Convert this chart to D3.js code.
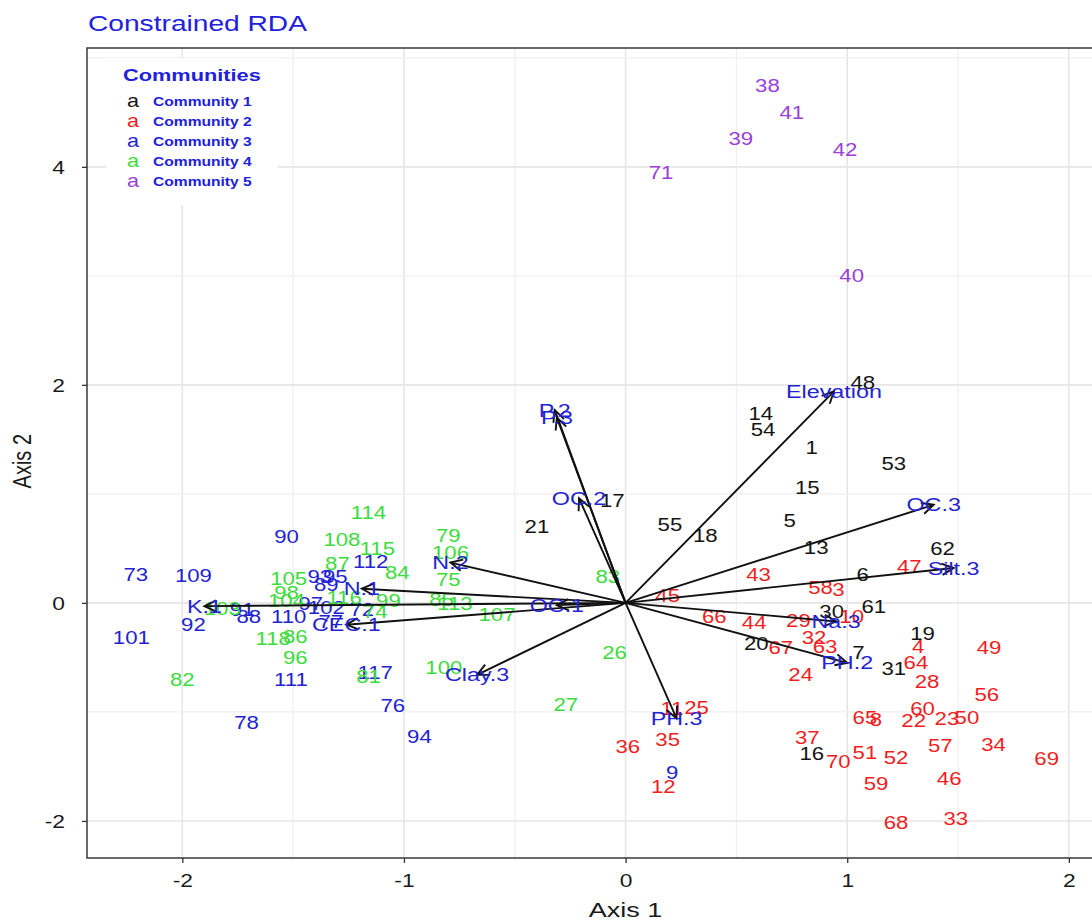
<!DOCTYPE html>
<html>
<head>
<meta charset="utf-8">
<script src="https://cdn.jsdelivr.net/npm/d3@7"></script>
<style>
  html, body { margin: 0; padding: 0; background: #ffffff; overflow: hidden; }
  svg { display: block; font-family: "Liberation Sans", Arial, sans-serif; }
</style>
</head>
<body>
<svg id="chart" width="1092" height="923"></svg>
<script>
// Site scores [label, axis 1, axis 2] for each community
const community1 = [
  ["48", 1.07, 2.02], ["14", 0.61, 1.74], ["54", 0.62, 1.59], ["1", 0.84, 1.42],
  ["53", 1.21, 1.28], ["15", 0.82, 1.06], ["55", 0.20, 0.72], ["18", 0.36, 0.62],
  ["5", 0.74, 0.75], ["13", 0.86, 0.51], ["6", 1.07, 0.26], ["61", 1.12, -0.03],
  ["30", 0.93, -0.08], ["20", 0.59, -0.37], ["7", 1.05, -0.46], ["62", 1.43, 0.50],
  ["19", 1.34, -0.28], ["31", 1.21, -0.60], ["16", 0.84, -1.38], ["17", -0.06, 0.94],
  ["21", -0.40, 0.70]
];
const community2 = [
  ["43", 0.60, 0.26], ["45", 0.19, 0.07], ["58", 0.88, 0.14], ["3", 0.96, 0.12],
  ["66", 0.40, -0.13], ["44", 0.58, -0.18], ["29", 0.78, -0.16], ["10", 1.02, -0.13],
  ["32", 0.85, -0.32], ["63", 0.90, -0.40], ["67", 0.70, -0.41], ["47", 1.28, 0.33],
  ["24", 0.79, -0.66], ["4", 1.32, -0.40], ["64", 1.31, -0.55], ["28", 1.36, -0.72],
  ["49", 1.64, -0.41], ["56", 1.63, -0.84], ["60", 1.34, -0.97], ["22", 1.30, -1.08],
  ["23", 1.45, -1.06], ["50", 1.54, -1.05], ["57", 1.42, -1.31], ["34", 1.66, -1.30],
  ["69", 1.90, -1.43], ["46", 1.46, -1.61], ["33", 1.49, -1.98], ["65", 1.08, -1.05],
  ["8", 1.13, -1.07], ["52", 1.22, -1.42], ["51", 1.08, -1.37], ["70", 0.96, -1.46],
  ["37", 0.82, -1.24], ["59", 1.13, -1.66], ["68", 1.22, -2.02], ["25", 0.32, -0.96],
  ["11", 0.21, -0.97], ["35", 0.19, -1.25], ["36", 0.01, -1.32], ["12", 0.17, -1.69]
];
const community3 = [
  ["9", 0.21, -1.56], ["73", -2.21, 0.26], ["109", -1.95, 0.25], ["90", -1.53, 0.61],
  ["101", -2.23, -0.32], ["92", -1.95, -0.20], ["88", -1.70, -0.13], ["91", -1.73, -0.06],
  ["110", -1.52, -0.13], ["93", -1.38, 0.24], ["95", -1.31, 0.24], ["89", -1.35, 0.17],
  ["112", -1.15, 0.38], ["97", -1.42, -0.01], ["102", -1.35, -0.04], ["72", -1.19, -0.06],
  ["77", -1.33, -0.17], ["117", -1.13, -0.64], ["111", -1.51, -0.70], ["76", -1.05, -0.94],
  ["78", -1.71, -1.10], ["94", -0.93, -1.23]
];
const community4 = [
  ["114", -1.16, 0.83], ["108", -1.28, 0.58], ["115", -1.12, 0.50], ["87", -1.30, 0.36],
  ["84", -1.03, 0.28], ["105", -1.52, 0.22], ["98", -1.53, 0.09], ["104", -1.53, 0.02],
  ["116", -1.27, 0.05], ["99", -1.07, 0.02], ["74", -1.13, -0.08], ["118", -1.59, -0.33],
  ["86", -1.49, -0.31], ["96", -1.49, -0.50], ["103", -1.82, -0.05], ["85", -0.83, 0.03],
  ["113", -0.77, -0.01], ["79", -0.80, 0.62], ["106", -0.79, 0.46], ["75", -0.80, 0.21],
  ["107", -0.58, -0.11], ["100", -0.82, -0.59], ["81", -1.16, -0.68], ["82", -2.00, -0.70],
  ["26", -0.05, -0.46], ["27", -0.27, -0.93], ["83", -0.08, 0.24]
];
const community5 = [
  ["38", 0.64, 4.74], ["41", 0.75, 4.50], ["39", 0.52, 4.26], ["42", 0.99, 4.16],
  ["71", 0.16, 3.95], ["40", 1.02, 3.00]
];

// Constraining variables (biplot arrows)
const envNames = ["Elevation", "P.2", "P.3", "OC.2", "N.2", "N.1", "K.1", "CEC.1",
                  "OC.1", "Clay.3", "PH.3", "PH.2", "Na.3", "Silt.3", "OC.3"];
const envAxis1 = [0.94, -0.32, -0.31, -0.21, -0.79, -1.19, -1.90, -1.26,
                  -0.31, -0.67, 0.23, 1.00, 0.95, 1.48, 1.39];
const envAxis2 = [1.94, 1.77, 1.70, 0.96, 0.37, 0.13, -0.03, -0.20,
                  -0.02, -0.66, -1.06, -0.55, -0.17, 0.32, 0.90];

const legendLabels = ["Community 1", "Community 2", "Community 3", "Community 4", "Community 5"];
const communityColors = ["#141414", "#f01e1e", "#2323d2", "#3ddc3d", "#9a3fd8"];
const xTicks = [-2, -1, 0, 1, 2];
const yTicks = [-2, 0, 2, 4];

const svg = d3.select("#chart");
const panel = { left: 87, top: 48, right: 1101, bottom: 858 };

const x = d3.scaleLinear().domain([-2.43, 2.145]).range([panel.left, panel.right]);
const y = d3.scaleLinear().domain([-2.34, 5.09]).range([panel.bottom, panel.top]);

// Text in this figure is set slightly wide; place each label with a horizontal stretch
const WIDE = 1.2;
function placeText(parent, px, py, str, opts) {
  const t = parent.append("text")
    .attr("transform", `translate(${px},${py}) scale(${opts.sx || WIDE},1)`)
    .attr("font-size", opts.size)
    .attr("fill", opts.fill || "#1a1a1a")
    .attr("text-anchor", opts.anchor || "start")
    .text(str);
  if (opts.central) t.attr("dominant-baseline", "central");
  if (opts.weight) t.attr("font-weight", opts.weight);
  return t;
}

// Title
placeText(svg, 88, 31, "Constrained RDA", { size: 22, fill: "#2020dd", sx: 1.28 });

// Grid: major lines at whole units, minor lines between them
const gridG = svg.append("g");
d3.range(-2, 2.01, 0.5).forEach(v => {
  gridG.append("line")
    .attr("x1", x(v)).attr("x2", x(v))
    .attr("y1", panel.top).attr("y2", panel.bottom)
    .attr("stroke", Number.isInteger(v) ? "#e6e6e6" : "#efefef")
    .attr("stroke-width", Number.isInteger(v) ? 1.6 : 1.2);
});
d3.range(-2, 5.01, 1).forEach(v => {
  gridG.append("line")
    .attr("x1", panel.left).attr("x2", panel.right)
    .attr("y1", y(v)).attr("y2", y(v))
    .attr("stroke", v % 2 === 0 ? "#e6e6e6" : "#efefef")
    .attr("stroke-width", v % 2 === 0 ? 1.6 : 1.2);
});

// Panel border
svg.append("rect")
  .attr("x", panel.left).attr("y", panel.top)
  .attr("width", panel.right - panel.left).attr("height", panel.bottom - panel.top)
  .attr("fill", "none").attr("stroke", "#3a3a3a").attr("stroke-width", 1.5);

// Axes
const fmt = d => String(d);
const xAxis = svg.append("g")
  .attr("transform", `translate(0,${panel.bottom})`)
  .call(d3.axisBottom(x).tickValues(xTicks).tickSize(5).tickFormat(fmt));
const yAxis = svg.append("g")
  .attr("transform", `translate(${panel.left},0)`)
  .call(d3.axisLeft(y).tickValues(yTicks).tickSize(5).tickFormat(fmt));
[xAxis, yAxis].forEach(g => {
  g.select(".domain").remove();
  g.selectAll(".tick line").attr("stroke", "#333").attr("stroke-width", 1.3);
  g.selectAll(".tick text")
    .attr("fill", "#1a1a1a")
    .attr("font-size", 19)
    .attr("x", null).attr("y", null).attr("dy", null);
});
xAxis.selectAll(".tick text")
  .attr("transform", `translate(0,29) scale(${WIDE},1)`);
yAxis.selectAll(".tick text")
  .attr("transform", `translate(-22,7) scale(${WIDE},1)`);

placeText(svg, x(0), 917, "Axis 1", { size: 20, anchor: "middle", sx: 1.35 });
svg.append("text")
  .attr("transform", `translate(31,${y(1.3)}) rotate(-90) scale(1,1.3)`)
  .attr("text-anchor", "middle")
  .attr("fill", "#1a1a1a").attr("font-size", 20)
  .text("Axis 2");

// Site labels
const communities = [community1, community2, community3, community4, community5];
const siteG = svg.append("g");
communities.forEach((sites, i) => {
  sites.forEach(d => {
    placeText(siteG, x(d[1]), y(d[2]), d[0],
      { size: 18.5, fill: communityColors[i], anchor: "middle", central: true });
  });
});

// Biplot arrows from the origin with open arrowheads
const envData = envNames.map((n, i) => ({ name: n, a1: envAxis1[i], a2: envAxis2[i] }));
const arrowG = svg.append("g").attr("stroke", "#111").attr("stroke-width", 1.9).attr("fill", "none");
envData.forEach(d => {
  const x0 = x(0), y0 = y(0), x1 = x(d.a1), y1 = y(d.a2);
  arrowG.append("line").attr("x1", x0).attr("y1", y0).attr("x2", x1).attr("y2", y1);
  const ang = Math.atan2(y1 - y0, x1 - x0);
  const len = 13, spread = 0.45;
  const p1 = [x1 - len * Math.cos(ang - spread), y1 - len * Math.sin(ang - spread)];
  const p2 = [x1 - len * Math.cos(ang + spread), y1 - len * Math.sin(ang + spread)];
  arrowG.append("path").attr("d", `M${p1[0]},${p1[1]}L${x1},${y1}L${p2[0]},${p2[1]}`);
});
const envG = svg.append("g");
envData.forEach(d => {
  placeText(envG, x(d.a1), y(d.a2), d.name,
    { size: 18.5, fill: "#2323d2", anchor: "middle", central: true, sx: 1.26 });
});

// Legend
const legend = svg.append("g");
legend.append("rect")
  .attr("x", 106).attr("y", 58).attr("width", 172).attr("height", 147)
  .attr("fill", "#ffffff");
placeText(legend, 123, 81, "Communities",
  { size: 17, weight: "bold", fill: "#2020dd", sx: 1.28 });
legendLabels.forEach((lab, i) => {
  const cy = 101 + i * 20;
  placeText(legend, 133, cy, "a",
    { size: 18, fill: communityColors[i], anchor: "middle", central: true });
  placeText(legend, 153, cy, lab,
    { size: 13, weight: "bold", fill: "#2020dd", central: true, sx: 1.2 });
});
</script>
</body>
</html>
